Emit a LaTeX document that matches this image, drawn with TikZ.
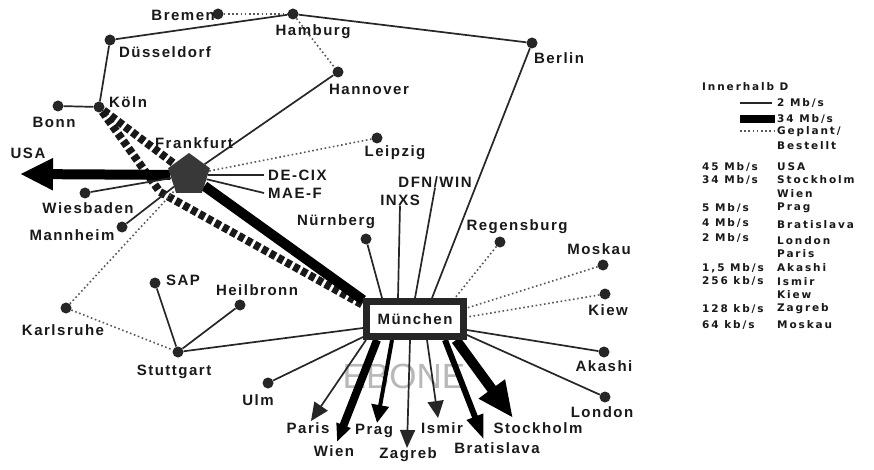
\documentclass[tikz,border=0pt]{standalone}
\usepackage{fontspec}
\setmainfont{Liberation Sans}
\newfontfamily\lblfont{Liberation Sans}[LetterSpace=10]
\newfontfamily\legfont{DejaVu Sans}[LetterSpace=18]
\usetikzlibrary{arrows.meta,shapes.geometric,backgrounds}
\begin{document}
\begin{tikzpicture}[x=1pt,y=-1pt,
  dot/.style={circle,fill=black!85,minimum size=11pt,inner sep=0pt},
  lbl/.style={font=\lblfont\bfseries\fontsize{15}{17}\selectfont,inner sep=0pt,text=black!90},
  leg/.style={font=\legfont\bfseries\fontsize{10.5}{12}\selectfont,inner sep=0pt,anchor=west,text=black!90},
  conn/.style={line width=1.7pt,draw=black!85},
  plan/.style={line width=1.6pt,draw=black!65,dash pattern=on 1.6pt off 2.6pt},
  fat/.style={line width=10pt,draw=black},
  fatdash/.style={line width=8pt,draw=black!90,dash pattern=on 6pt off 3pt},
]
\useasboundingbox (0,0) rectangle (874,470);

% cities
\node[dot] (bremen) at (218,14) {};
\node[lbl,anchor=east] (bremenL) at (215,15) {Bremen};
\node[dot] (hamburg) at (293,14) {};
\node[lbl] (hamburgL) at (313,32) {Hamburg};
\node[dot] (dus) at (110,40) {};
\node[lbl] (dusL) at (165,52) {Düsseldorf};
\node[dot] (berlin) at (532,43) {};
\node[lbl] (berlinL) at (559,58) {Berlin};
\node[dot] (hannover) at (338,72) {};
\node[lbl] (hannoverL) at (369,89) {Hannover};
\node[dot] (koeln) at (99,107) {};
\node[lbl] (koelnL) at (128,102) {Köln};
\node[dot] (bonn) at (58,106) {};
\node[lbl] (bonnL) at (54,122) {Bonn};
\node[regular polygon,regular polygon sides=5,minimum size=44pt,inner sep=0pt,fill=black!78] (fra) at (189,175) {};
\node[lbl] (fraL) at (194,143) {Frankfurt};
\node[dot] (leipzig) at (377,138) {};
\node[lbl] (leipzigL) at (395,153) {Leipzig};
\node[lbl] (usa) at (28,153) {USA};
\node[lbl,anchor=west] (decix) at (268,175) {DE-CIX};
\node[lbl,anchor=west] (maef) at (268,193) {MAE-F};
\node[dot] (wies) at (85,193) {};
\node[lbl] (wiesL) at (88,208) {Wiesbaden};
\node[dot] (mann) at (122,227) {};
\node[lbl] (mannL) at (72,235) {Mannheim};
\node[lbl] (dfn) at (435,182) {DFN/WIN};
\node[lbl] (inxs) at (400,200) {INXS};
\node[dot] (nuern) at (366,239) {};
\node[lbl] (nuernL) at (336,222) {Nürnberg};
\node[dot] (regens) at (500,242) {};
\node[lbl] (regensL) at (517,227) {Regensburg};
\node[dot] (moskau) at (603,265) {};
\node[lbl] (moskauL) at (599,249) {Moskau};
\node[dot] (kiew) at (605,294) {};
\node[lbl] (kiewL) at (608,310) {Kiew};
\node[dot] (akashi) at (604,352) {};
\node[lbl] (akashiL) at (604,366) {Akashi};
\node[dot] (london) at (605,397) {};
\node[lbl] (londonL) at (602,412) {London};
\node[dot] (sap) at (155,283) {};
\node[lbl] (sapL) at (183,280) {SAP};
\node[dot] (heil) at (240,305) {};
\node[lbl] (heilL) at (257,290) {Heilbronn};
\node[dot] (karls) at (66,308) {};
\node[lbl] (karlsL) at (63,330) {Karlsruhe};
\node[dot] (stutt) at (178,352) {};
\node[lbl] (stuttL) at (174,372) {Stuttgart};
\node[dot] (ulm) at (268,383) {};
\node[lbl] (ulmL) at (258,400) {Ulm};
\node[lbl,draw=black!85,line width=7pt,fill=white,minimum width=97pt,minimum height=35pt] (mu) at (415,319) {München};

% international destinations
\node[lbl] (paris) at (308,428) {Paris};
\node[lbl] (wien) at (334,451) {Wien};
\node[lbl] (prag) at (374,431) {Prag};
\node[lbl] (zagreb) at (408,455) {Zagreb};
\node[lbl] (ismir) at (442,428) {Ismir};
\node[lbl] (brat) at (497,448) {Bratislava};
\node[lbl] (stock) at (538,428) {Stockholm};

\coordinate (tParis) at (311,421);
\coordinate (tWien) at (337,442);
\coordinate (tPrag) at (377,423);
\coordinate (tZagreb) at (407,448);
\coordinate (tIsmir) at (438,418);
\coordinate (tBrat) at (484,440);
\coordinate (tStock) at (513,418);
\coordinate (tUSA) at (20,174);
\coordinate (bend) at (160,192);

\begin{scope}[on background layer]
\fill[white] (0,0) rectangle (874,470);
\node[font=\fontsize{35}{40}\selectfont,text=black!28,inner sep=0pt] (ebone) at (404,376) {EBONE};
\draw[plan] (bremen) -- (hamburg);
\draw[conn] (dus) -- (hamburg) -- (berlin);
\draw[plan] (hamburg) -- (hannover);
\draw[conn] (hannover) -- (fra);
\draw[conn] (dus) -- (koeln);
\draw[conn] (bonn) -- (koeln);
\draw[fatdash] (koeln) -- (fra);
\draw[fatdash] (koeln) -- (bend) -- ([yshift=-7pt]mu.north west);
\draw[fat] (fra) -- ([yshift=-2pt]mu.north west);
\draw[fat,-{Triangle[width=30pt,length=33pt]}] (fra) -- (tUSA);
\draw[plan] (fra) -- (leipzig);
\draw[conn] (fra) -- ([xshift=-4pt]decix.west);
\draw[conn] (fra) -- ([xshift=-4pt]maef.west);
\draw[conn] (wies) -- (fra);
\draw[conn] (mann) -- (fra);
\draw[plan] (karls) -- (fra);
\draw[plan] (karls) -- (stutt);
\draw[conn] (sap) -- (stutt);
\draw[conn] (heil) -- (stutt);
\draw[conn] (stutt) -- ([yshift=-30pt]mu.north west);
\draw[conn] (ulm) -- ([yshift=-39pt]mu.north west);
\draw[conn] (nuern) -- ([xshift=19pt]mu.north west);
\draw[conn] (inxs.south) -- ([xshift=35pt]mu.north west);
\draw[conn] (dfn.south) -- ([xshift=52pt]mu.north west);
\draw[conn] (berlin) -- ([xshift=69pt]mu.north west);
\draw[plan] (regens) -- ([xshift=92pt]mu.north west);
\draw[plan] (moskau) -- ([yshift=-10pt]mu.north east);
\draw[plan] (kiew) -- ([yshift=-19pt]mu.north east);
\draw[conn] (akashi) -- ([yshift=-32pt]mu.north east);
\draw[conn] (london) -- ([yshift=-37pt]mu.north east);
\draw[conn,-{Triangle[width=16pt,length=18pt]}] ([xshift=3pt]mu.south west) -- (tParis);
\draw[line width=8pt,draw=black,-{Triangle[width=14pt,length=18pt]}] ([xshift=14pt]mu.south west) -- (tWien);
\draw[line width=4pt,draw=black,-{Triangle[width=17pt,length=18pt]}] ([xshift=29pt]mu.south west) -- (tPrag);
\draw[conn,-{Triangle[width=15pt,length=18pt]}] ([xshift=47pt]mu.south west) -- (tZagreb);
\draw[conn,-{Triangle[width=16pt,length=17pt]}] ([xshift=64pt]mu.south west) -- (tIsmir);
\draw[line width=6pt,draw=black,-{Triangle[width=16pt,length=25pt]}] ([xshift=82pt]mu.south west) -- (tBrat);
\draw[line width=10pt,draw=black,-{Triangle[width=30pt,length=36pt]}] ([xshift=93pt]mu.south west) -- (tStock);
\end{scope}

% legend
\node[leg] (lgT) at (702,87) {Innerhalb D};
\draw[line width=1.6pt,black!85] (740,103) -- (772,103);
\node[leg] (lg1) at (777,103) {2 Mb/s};
\fill[black] (740,115) rectangle (775,123);
\node[leg] (lg2) at (777,119) {34 Mb/s};
\draw[plan] (740,131) -- (775,131);
\node[leg] (lg3) at (777,132) {Geplant/};
\node[leg] (lg4) at (777,146) {Bestellt};
\node[leg] (r1) at (702,167) {45 Mb/s};
\node[leg] (c1) at (777,167) {USA};
\node[leg] (r2) at (702,180) {34 Mb/s};
\node[leg] (c2) at (777,180) {Stockholm};
\node[leg] (c2b) at (777,194) {Wien};
\node[leg] (r3) at (702,208) {5 Mb/s};
\node[leg] (c3) at (777,208) {Prag};
\node[leg] (r4) at (702,223) {4 Mb/s};
\node[leg] (c4) at (777,225) {Bratislava};
\node[leg] (r5) at (702,238) {2 Mb/s};
\node[leg] (c5) at (777,241) {London};
\node[leg] (c5b) at (777,254) {Paris};
\node[leg] (r6) at (702,268) {1,5 Mb/s};
\node[leg] (c6) at (777,268) {Akashi};
\node[leg] (r7) at (702,281) {256 kb/s};
\node[leg] (c7) at (777,282) {Ismir};
\node[leg] (c7b) at (777,295) {Kiew};
\node[leg] (r8) at (702,309) {128 kb/s};
\node[leg] (c8) at (777,309) {Zagreb};
\node[leg] (r9) at (702,325) {64 kb/s};
\node[leg] (c9) at (777,325) {Moskau};
\end{tikzpicture}
\end{document}
